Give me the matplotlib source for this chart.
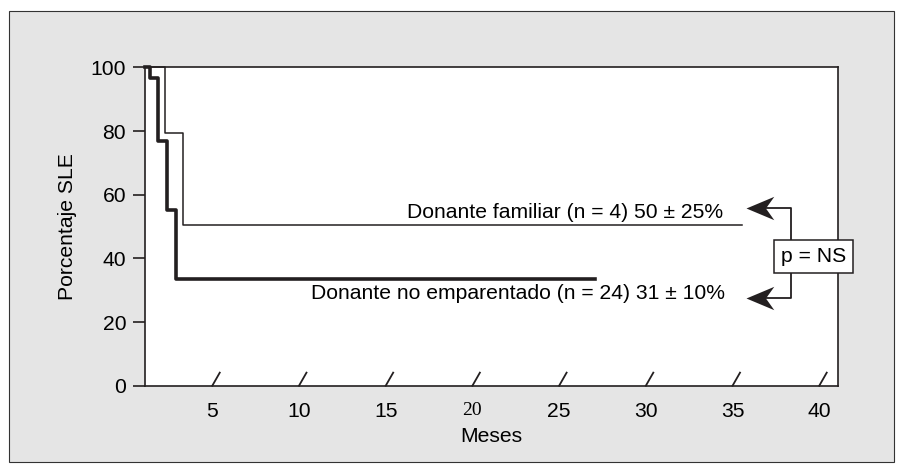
import matplotlib.pyplot as plt
from matplotlib.patches import Rectangle
from matplotlib.path import Path

plt.rcParams['font.family'] = ['Liberation Sans', 'DejaVu Sans']

# Curvas de supervivencia libre de enfermedad (meses, porcentaje)
meses_no_emp = [1.1, 1.41, 1.87, 2.39, 2.91, 27.07]
sle_no_emp = [100, 96.6, 76.8, 55.2, 33.4, 33.4]
meses_fam = [1.1, 2.27, 3.31, 35.54]
sle_fam = [100, 79.4, 50.4, 50.4]

xticks = [5, 10, 15, 20, 25, 30, 35, 40]
yticks = [0, 20, 40, 60, 80, 100]

texto_fam = 'Donante familiar (n = 4) 50 \u00b1 25%'
texto_no_emp = 'Donante no emparentado (n = 24) 31 \u00b1 10%'

negro = '#231f20'
fs = 15.2

fig = plt.figure(figsize=(9.03, 4.71), dpi=100)
fig.patch.set_facecolor('white')
fig.patches.append(Rectangle((9 / 903, 1 - 462 / 471), 885 / 903, 451 / 471,
                             transform=fig.transFigure, facecolor='#e5e5e5',
                             edgecolor='#333333', lw=0.8, zorder=-10))

ax = fig.add_axes([0.1606, 0.1811, 0.7678, 0.6756])
ax.set_facecolor('white')

ax.step(meses_no_emp, sle_no_emp, where='post', color=negro, lw=2.6, clip_on=False, zorder=3)
ax.step(meses_fam, sle_fam, where='post', color=negro, lw=1.1, clip_on=False, zorder=3)

ax.set_xlim(1.12, 41.1)
ax.set_ylim(0, 100)

for s in ax.spines.values():
    s.set_color(negro)
    s.set_linewidth(1.2)

ax.set_xticks(xticks)
ax.set_xticklabels([str(t) for t in xticks])
ax.set_yticks(yticks)
ax.tick_params(axis='x', length=0, pad=12, labelsize=fs, colors='black')
ax.tick_params(axis='y', length=8.6, width=1.2, color=negro, pad=5, labelsize=fs)
for lab in ax.get_xticklabels():
    if lab.get_text() == '20':
        lab.set_fontfamily('Liberation Serif')
        lab.set_fontsize(14)

# marcas inclinadas sobre el eje x
for t in xticks:
    ax.plot([t, t + 0.43], [0, 4.1], color=negro, lw=1.3, clip_on=False, zorder=4)

ax.set_xlabel('Meses', fontsize=fs)
ax.set_ylabel('Porcentaje SLE', fontsize=fs)
ax.xaxis.set_label_coords(0.5, -0.13)
ax.yaxis.set_label_coords(-0.098, 0.5)

ax.text(34.45, 52.6, texto_fam, ha='right', va='baseline', fontsize=fs)
ax.text(34.57, 27.1, texto_no_emp, ha='right', va='baseline', fontsize=fs)

# corchete de comparación con flechas
xb = 38.36
x_punta = 35.8
y_sup, y_inf = 55.8, 27.5
caja_x0, caja_x1 = 37.39, 41.93
caja_y0, caja_y1 = 35.48, 45.75
ax.plot([x_punta + 0.8, xb, xb], [y_sup, y_sup, caja_y1], color=negro, lw=1.3, clip_on=False)
ax.plot([xb, xb, x_punta + 0.8], [caja_y0, y_inf, y_inf], color=negro, lw=1.3, clip_on=False)

# punta de flecha tipo "stealth" apuntando a la izquierda
punta = Path([(0, 0), (1, 0.42), (0.7, 0), (1, -0.42), (0, 0)],
             [Path.MOVETO, Path.LINETO, Path.LINETO, Path.LINETO, Path.CLOSEPOLY])
ax.plot([x_punta, x_punta], [y_sup, y_inf], ls='none', marker=punta, markersize=40,
        color=negro, markeredgewidth=0, clip_on=False, zorder=4)

ax.add_patch(Rectangle((caja_x0, caja_y0), caja_x1 - caja_x0, caja_y1 - caja_y0,
                       facecolor='white', edgecolor=negro, lw=1.1,
                       clip_on=False, zorder=5))
ax.text((caja_x0 + caja_x1) / 2, (caja_y0 + caja_y1) / 2, 'p = NS',
        ha='center', va='center', fontsize=fs, zorder=6)

fig.savefig('out.png', dpi=100)
